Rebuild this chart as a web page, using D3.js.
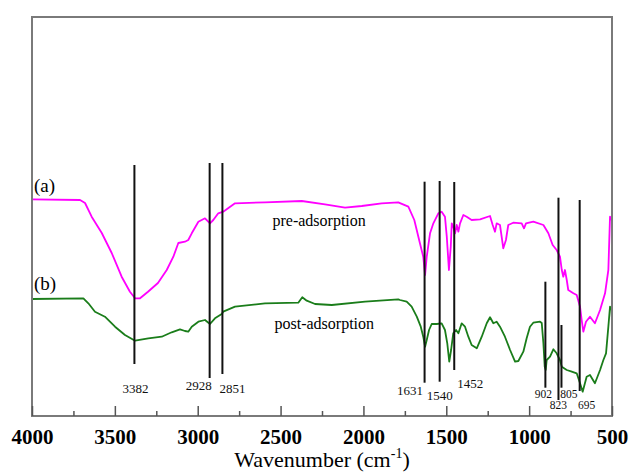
<!DOCTYPE html>
<html>
<head>
<meta charset="utf-8">
<script src="https://cdn.jsdelivr.net/npm/d3@7"></script>
<style>
  html, body { margin: 0; padding: 0; background: #fff; }
  svg { display: block; }
</style>
</head>
<body>
<svg id="chart" width="630" height="472"></svg>
<script>
// FTIR spectra (transmittance, arbitrary units, offset) vs. wavenumber (cm-1)
const wavenumbersA = [4000, 3710, 3680, 3640, 3579, 3519, 3459, 3409, 3378, 3348, 3300, 3240, 3187, 3147, 3117, 3077, 3057, 3036, 2996, 2956, 2926, 2906, 2876, 2846, 2775, 2594, 2372, 2232, 2111, 2010, 1890, 1790, 1729, 1693, 1659, 1639, 1628, 1618, 1598, 1578, 1548, 1528, 1508, 1497, 1484, 1473, 1467, 1458, 1447, 1437, 1427, 1417, 1397, 1377, 1347, 1296, 1236, 1220, 1206, 1196, 1176, 1166, 1156, 1140, 1126, 1096, 1045, 1031, 1019, 975, 914, 884, 858, 834, 814, 803, 794, 784, 773, 764, 733, 713, 693, 683, 673, 657, 633, 603, 572, 542, 522, 512, 502];
const preAdsorption = [216.7, 216, 213, 199.3, 183, 163, 139.3, 124.3, 117.7, 117.7, 124.3, 133, 146, 159.3, 173, 174.3, 176, 182.7, 194.3, 197.7, 192.7, 196, 202.7, 204.3, 212.7, 213.7, 215, 211.7, 208.3, 210, 212.7, 213.7, 209.3, 196, 172.7, 159.3, 141, 159.3, 182.7, 192.7, 202.7, 204.3, 199.3, 179.3, 146, 169.3, 192.7, 189.3, 182.7, 191, 184.3, 192.7, 201, 199.3, 196, 196.7, 200, 191, 184.3, 192.7, 191, 179.3, 167.7, 176, 191, 193.3, 192.7, 187.7, 192.7, 194.3, 191, 182.7, 171, 166, 159.3, 146, 139.3, 146, 136, 126, 122.7, 121, 109.3, 96, 84.3, 94.3, 99.3, 92.7, 106, 122.7, 146, 199.3, 196];

const wavenumbersB = [4000, 3690, 3660, 3620, 3560, 3499, 3439, 3378, 3298, 3217, 3157, 3107, 3077, 3057, 3036, 2996, 2956, 2926, 2896, 2855, 2846, 2775, 2594, 2393, 2369, 2342, 2292, 2191, 1990, 1790, 1779, 1739, 1709, 1678, 1654, 1639, 1628, 1618, 1604, 1588, 1558, 1528, 1508, 1494, 1482, 1471, 1458, 1441, 1427, 1407, 1387, 1367, 1347, 1316, 1286, 1256, 1236, 1216, 1196, 1176, 1146, 1115, 1085, 1065, 1035, 1015, 995, 975, 934, 924, 914, 906, 900, 894, 874, 854, 834, 814, 803, 773, 743, 713, 693, 677, 653, 633, 603, 572, 552, 536, 522, 512, 502, 500];
const postAdsorption = [117, 117.7, 112.7, 104.3, 99.3, 89.3, 81, 75.3, 77.7, 79.3, 83.7, 86.7, 85, 84.3, 89.3, 94.3, 96, 92, 97.7, 102, 104.3, 109.3, 112.7, 113.3, 118.7, 115.3, 112, 111, 114.3, 116.7, 116, 114.3, 109.3, 99.3, 89.3, 79.3, 69.3, 76, 86, 92, 92, 92.7, 86, 72.7, 54.3, 66, 82.7, 86, 82.7, 92.7, 89.3, 79.3, 71, 67.7, 79.3, 92.7, 98.7, 92.7, 94.3, 89.3, 79.3, 66, 54.3, 55, 64.3, 77.7, 89.3, 93.3, 94.3, 93, 72.7, 49.3, 46, 56, 59.3, 66.7, 62.7, 56, 49.3, 46, 44.3, 42.7, 32.7, 24.3, 39.3, 41, 32.7, 46, 56, 62.7, 89.3, 109.3, 106, 89.3];

// Assigned bands (cm-1)
const peakValues = [3382, 2928, 2851, 1631, 1540, 1452, 902, 823, 805, 695];
const peakLabels = ["3382", "2928", "2851", "1631", "1540", "1452", "902", "823", "805", "695"];

// x-axis ticks
const majorTicks = [4000, 3500, 3000, 2500, 2000, 1500, 1000, 500];
const minorTicks = [3750, 3250, 2750, 2250, 1750, 1250, 750];
const tickLabels = ["4000", "3500", "3000", "2500", "2000", "1500", "1000", "500"];

// Annotation layout: line extents in y units, label offset/baseline in px, font size
const peakLayout = [
  { y1: 251, y2: 52, dx: 1, base: 392.7, fs: 13 },
  { y1: 253, y2: 38, dx: -11, base: 390, fs: 13 },
  { y1: 253, y2: 42, dx: 10, base: 392.7, fs: 13 },
  { y1: 234.3, y2: 33.3, dx: -14.5, base: 395, fs: 13 },
  { y1: 235, y2: 34.3, dx: 0, base: 400, fs: 13 },
  { y1: 234, y2: 46, dx: 16, base: 387.7, fs: 13 },
  { y1: 134.3, y2: 28.3, dx: -2, base: 398, fs: 11.5 },
  { y1: 218.3, y2: 16, dx: 0, base: 409, fs: 11.5 },
  { y1: 91, y2: 28.3, dx: 7.5, base: 398, fs: 11.5 },
  { y1: 216, y2: 25, dx: 7, base: 409, fs: 11.5 }
];

const svg = d3.select("#chart");
const plotLeft = 32, plotRight = 612, plotTop = 17, plotBottom = 416;
const serif = "'Liberation Serif', 'Times New Roman', serif";

const x = d3.scaleLinear().domain([4000, 500]).range([plotLeft, plotRight]);
const y = d3.scaleLinear().domain([0, 399]).range([plotBottom, plotTop]);

// spectra
const line = d3.line().x(d => x(d[0])).y(d => y(d[1]));
svg.append("path")
  .datum(d3.zip(wavenumbersA, preAdsorption))
  .attr("d", line)
  .attr("fill", "none")
  .attr("stroke", "#ff00ff")
  .attr("stroke-width", 1.8)
  .attr("stroke-linejoin", "round");
svg.append("path")
  .datum(d3.zip(wavenumbersB, postAdsorption))
  .attr("d", line)
  .attr("fill", "none")
  .attr("stroke", "#1a7d1a")
  .attr("stroke-width", 1.8)
  .attr("stroke-linejoin", "round");

// band marker lines and labels
const peaks = peakValues.map((v, i) => ({ v, label: peakLabels[i], ...peakLayout[i] }));
svg.append("g").selectAll("line").data(peaks).join("line")
  .attr("x1", d => x(d.v)).attr("x2", d => x(d.v))
  .attr("y1", d => y(d.y1)).attr("y2", d => y(d.y2))
  .attr("stroke", "#111").attr("stroke-width", 2);
svg.append("g").selectAll("text").data(peaks).join("text")
  .attr("x", d => x(d.v) + d.dx)
  .attr("y", d => d.base)
  .attr("text-anchor", "middle")
  .attr("font-family", serif)
  .attr("font-size", d => d.fs)
  .attr("fill", "#111")
  .text(d => d.label);

// frame
svg.append("rect")
  .attr("x", plotLeft).attr("y", plotTop)
  .attr("width", plotRight - plotLeft).attr("height", plotBottom - plotTop)
  .attr("fill", "none").attr("stroke", "#7a7a7a").attr("stroke-width", 2);

// x axis: inward ticks
const xAxis = d3.axisBottom(x)
  .tickValues(majorTicks)
  .tickSize(-10)
  .tickPadding(13)
  .tickFormat((d, i) => tickLabels[i]);
const gx = svg.append("g").attr("transform", `translate(0,${plotBottom})`).call(xAxis);
gx.select(".domain").remove();
gx.selectAll(".tick line").attr("stroke", "#555").attr("stroke-width", 1.5);
gx.selectAll(".tick text")
  .attr("font-family", serif).attr("font-size", 21).attr("font-weight", "bold").attr("fill", "#000");

const gm = svg.append("g").attr("transform", `translate(0,${plotBottom})`)
  .call(d3.axisBottom(x).tickValues(minorTicks).tickSize(-5).tickFormat(""));
gm.select(".domain").remove();
gm.selectAll(".tick line").attr("stroke", "#555").attr("stroke-width", 1.5);

// axis title
const title = svg.append("text")
  .attr("x", (plotLeft + plotRight) / 2).attr("y", 467)
  .attr("text-anchor", "middle")
  .attr("font-family", serif).attr("font-size", 22).attr("fill", "#000");
title.append("tspan").text("Wavenumber (cm");
title.append("tspan").attr("font-size", 14).attr("dy", -9).text("-1");
title.append("tspan").attr("dy", 9).text(")");

// series labels
svg.append("text").attr("x", 34).attr("y", 191.5)
  .attr("font-family", serif).attr("font-size", 19).text("(a)");
svg.append("text").attr("x", 34).attr("y", 290)
  .attr("font-family", serif).attr("font-size", 19).text("(b)");
svg.append("text").attr("x", 272.5).attr("y", 225.5)
  .attr("font-family", serif).attr("font-size", 16).text("pre-adsorption");
svg.append("text").attr("x", 274.5).attr("y", 328.5)
  .attr("font-family", serif).attr("font-size", 16).text("post-adsorption");
</script>
</body>
</html>
